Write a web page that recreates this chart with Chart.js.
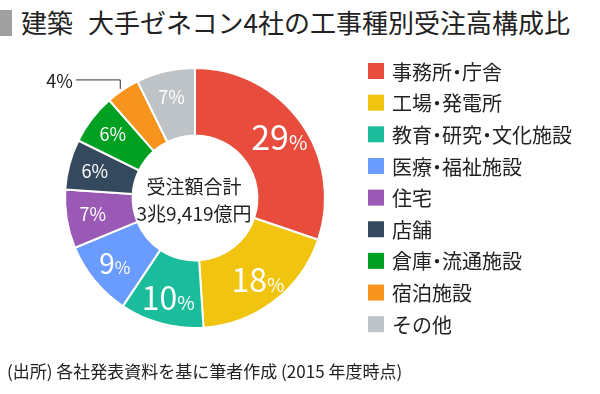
<!DOCTYPE html>
<html lang="ja">
<head>
<meta charset="utf-8">
<script src="https://cdn.jsdelivr.net/npm/chart.js@4.4.0/dist/chart.umd.min.js"></script>
<style>
  html, body { margin: 0; padding: 0; background: #fff; }
  body { width: 600px; height: 394px; position: relative; overflow: hidden;
         font-family: "Noto Sans CJK JP", sans-serif; color: #222; }
  #bar { position: absolute; left: 0; top: 10px; width: 12px; height: 26px; background: #a0a0a0; }
  #title { position: absolute; left: 21px; top: 9px; font-size: 26px; line-height: 26px; white-space: pre; }
  #title span { margin-left: 15px; }
  #note { position: absolute; left: 7px; top: 362px; font-size: 17px; line-height: 17px; white-space: pre; }
  #chart { position: absolute; left: 0; top: 0; }
</style>
</head>
<body>
<div id="bar"></div>
<div id="title">建築<span>大手ゼネコン4社の工事種別受注高構成比</span></div>
<canvas id="chart" width="600" height="394"></canvas>
<div id="note">(出所) 各社発表資料を基に筆者作成 (2015 年度時点)</div>
<script>
// 工事種別と構成比 (%)
const categories = ['事務所・庁舎', '工場・発電所', '教育・研究・文化施設', '医療・福祉施設', '住宅', '店舗', '倉庫・流通施設', '宿泊施設', 'その他'];
const shares = [29, 18, 10, 9, 7, 6, 6, 4, 7];
const colors = ['#e74c3c', '#f1c40f', '#1abc9c', '#6a9bff', '#9b59b6', '#34495e', '#00a023', '#f7941d', '#bdc3c7'];
const centerLines = ['受注額合計', '3兆9,419億円'];

// ラベルの文字サイズ (数字部分)
const labelSizes = [34, 32, 32, 28, 18, 18, 18, 18, 18];

const FONT = '"Noto Sans CJK JP", sans-serif';

// 中黒を半角幅で詰めて描く
function drawJa(ctx, text, x, y, size) {
    text.split('・').forEach((part, k) => {
        if (k > 0) {
            ctx.fillText('・', x - size * 0.25, y);
            x += size * 0.5;
        }
        ctx.fillText(part, x, y);
        x += ctx.measureText(part).width;
    });
}

const labelPlugin = {
    id: 'sliceLabels',
    afterDatasetsDraw(chart) {
        const ctx = chart.ctx;
        const meta = chart.getDatasetMeta(0);
        ctx.save();
        meta.data.forEach((arc, i) => {
            const p = arc.getProps(['x', 'y', 'startAngle', 'endAngle', 'innerRadius', 'outerRadius'], true);
            const mid = (p.startAngle + p.endAngle) / 2;
            const num = String(shares[i]);
            if (shares[i] < 5) {
                // 小さい区分は外側に引き出し線
                const ex = p.x + Math.cos(mid) * p.outerRadius;
                const ey = p.y + Math.sin(mid) * p.outerRadius;
                const ly = ey - 10;
                ctx.strokeStyle = '#333';
                ctx.lineWidth = 1;
                ctx.beginPath();
                ctx.moveTo(ex - 2.5, ey - 1);
                ctx.lineTo(ex - 2.5, ly);
                ctx.lineTo(ex - 47, ly);
                ctx.stroke();
                ctx.fillStyle = '#222';
                ctx.font = '18px ' + FONT;
                ctx.textAlign = 'right';
                ctx.textBaseline = 'middle';
                ctx.fillText(num + '%', ex - 50, ly + 1);
                return;
            }
            const r = p.innerRadius + (p.outerRadius - p.innerRadius) * 0.61;
            const cx = p.x + Math.cos(mid) * r;
            const cy = p.y + Math.sin(mid) * r;
            const big = labelSizes[i];
            const small = big > 20 ? Math.round(big * 0.6) : big;
            ctx.font = big + 'px ' + FONT;
            const wNum = ctx.measureText(num).width;
            ctx.font = small + 'px ' + FONT;
            const wPct = ctx.measureText('%').width;
            const x0 = cx - (wNum + wPct) / 2;
            const base = cy + big * 0.36;
            ctx.fillStyle = '#fff';
            ctx.textAlign = 'left';
            ctx.textBaseline = 'alphabetic';
            ctx.font = big + 'px ' + FONT;
            ctx.fillText(num, x0, base);
            ctx.font = small + 'px ' + FONT;
            ctx.fillText('%', x0 + wNum, base);
        });

        // 中央の合計
        const a = meta.data[0];
        ctx.fillStyle = '#222';
        ctx.font = '19px ' + FONT;
        ctx.textAlign = 'center';
        ctx.textBaseline = 'middle';
        ctx.fillText(centerLines[0], a.x - 1, a.y - 11);
        ctx.fillText(centerLines[1], a.x - 1, a.y + 16);

        // 凡例
        ctx.textAlign = 'left';
        ctx.font = '20px ' + FONT;
        categories.forEach((c, i) => {
            const y = 71 + i * 31.65;
            ctx.fillStyle = colors[i];
            ctx.fillRect(368, y - 8, 16, 16);
            ctx.fillStyle = '#222';
            drawJa(ctx, c, 392, y + 1, 20);
        });
        ctx.restore();
    }
};

new Chart(document.getElementById('chart').getContext('2d'), {
    type: 'doughnut',
    data: {
        labels: categories,
        datasets: [{
            data: shares,
            backgroundColor: colors,
            borderColor: '#fff',
            borderWidth: 2
        }]
    },
    options: {
        responsive: false,
        animation: false,
        cutout: '48%',
        layout: { padding: { left: 64, right: 274, top: 67, bottom: 65 } },
        plugins: { legend: { display: false }, tooltip: { enabled: false } }
    },
    plugins: [labelPlugin]
});
</script>
</body>
</html>
